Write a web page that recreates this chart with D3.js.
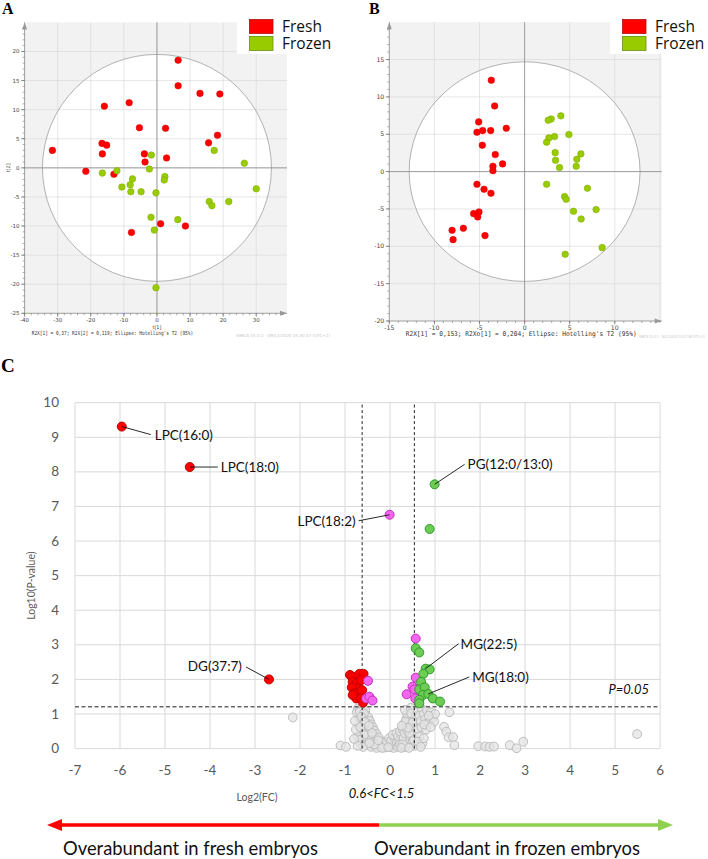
<!DOCTYPE html>
<html>
<head>
<meta charset="utf-8">
<style>
  body { margin: 0; background: #fff; }
  svg { display: block; }
  .tick-small { font-family: "DejaVu Sans", sans-serif; fill: #444; }
  .excel { font-family: Lato, "Open Sans", sans-serif; }
</style>
<script src="https://d3js.org/d3.v7.min.js"></script>
</head>
<body>
<div id="chart"></div>
<script>
// ---------- data: panel A (PCA scores t[1], t[2]) ----------
const freshA = [[6.4,18.5],[6.4,14.1],[13.0,12.8],[19.0,12.7],[-15.9,10.6],[-8.4,11.2],[-5.3,6.9],[2.6,6.8],
  [18.3,5.6],[15.6,4.3],[-16.6,4.2],[-15.2,3.9],[-31.6,3.0],[-16.5,2.4],[-3.8,2.4],[2.9,1.7],[-3.6,1.0],
  [-21.5,-0.6],[-13.0,-1.1],[1.1,-9.6],[8.6,-10.0],[-7.7,-11.1]];
const frozenA = [[-1.7,2.2],[17.3,3.0],[26.4,0.8],[-16.5,-0.9],[-12.1,-0.5],[-2.3,-0.2],[2.4,-1.5],[2.2,-2.1],
  [-7.4,-1.9],[-8.1,-2.9],[-10.6,-3.3],[-7.9,-4.1],[-4.8,-4.1],[-0.3,-4.3],[30.0,-3.6],[15.8,-5.8],[16.6,-6.5],
  [21.7,-5.8],[-1.8,-8.5],[6.3,-8.9],[-0.8,-10.7],[-0.3,-20.6]];
const ellipseA = [34.6, 19.5];
const footerA = "R2X[1] = 0,37; R2X[2] = 0,119; Ellipse: Hotelling's T2 (95%)";
const stampA = "SIMCA 15.0.2 - 09/12/2020 15:30:57 (UTC+1)";

// ---------- data: panel B (OPLS-DA scores) ----------
const freshB = [[-3.69,12.23],[-3.32,8.79],[-5.09,6.65],[-5.28,5.27],[-4.65,5.49],[-3.76,5.49],[-2.03,5.80],
  [-4.69,3.53],[-3.25,2.28],[-3.51,0.71],[-3.51,0.13],[-2.44,1.03],[-5.28,-1.70],[-4.50,-2.37],[-3.73,-2.90],
  [-5.65,-5.63],[-5.06,-5.40],[-5.20,-6.07],[-6.79,-7.59],[-8.04,-7.86],[-7.93,-9.11],[-4.39,-8.57]];
const frozenB = [[4.02,7.46],[2.95,7.05],[2.62,6.88],[4.91,4.96],[3.32,4.69],[2.69,4.51],[2.44,3.93],[3.39,2.54],
  [6.24,2.37],[5.79,1.65],[3.43,1.52],[3.87,0.54],[5.72,0.71],[2.44,-1.70],[6.97,-2.23],[4.43,-3.35],[4.61,-3.71],
  [5.42,-5.31],[7.93,-5.09],[6.27,-6.34],[8.60,-10.18],[4.50,-11.07]];
const ellipseB = [12.8, 14.7];
const footerB = "R2X[1] = 0,153; R2Xo[1] = 0,204; Ellipse: Hotelling's T2 (95%)";
const stampB = "SIMCA 15.0.2 - 16/12/2020 14:27:08 (UTC+1)";

const legendLabels = ["Fresh", "Frozen"];

// ---------- data: panel C (volcano, x = log2(FC), y = log10(P)) ----------
const volcanoRed = [[-5.96,9.31],[-4.45,8.14],[-2.69,2.0],
  [-0.89,2.13],[-0.84,2.08],[-0.68,2.16],[-0.59,2.16],[-0.83,1.93],[-0.74,1.89],[-0.64,1.98],[-0.72,1.74],
  [-0.85,1.77],[-0.79,1.60],[-0.68,1.60],[-0.62,1.69],[-0.75,1.45],[-0.64,1.45],[-0.60,1.33],[-0.83,1.55]];
const volcanoPink = [[-0.01,6.76],[0.57,3.18],[0.57,2.05],[-0.49,1.96],[-0.53,1.45],[-0.46,1.50],[-0.39,1.39],
  [0.50,1.79],[0.37,1.57],[0.54,1.71],[0.56,1.45]];
const volcanoGreen = [[0.99,7.64],[0.88,6.35],[0.57,2.90],[0.65,2.78],[0.79,2.31],[0.88,2.29],[0.74,2.16],
  [0.69,1.93],[0.65,1.71],[0.77,1.77],[0.73,1.55],[0.85,1.58],[0.95,1.45],[1.11,1.36],[0.65,1.41],[0.65,1.31]];
const volcanoGrey = [[-2.16,0.9],[-1.10,0.09],[-0.98,0.05],
  [-0.72,1.15],[-0.66,1.12],[-0.60,1.18],[-0.55,1.10],[-0.70,1.00],[-0.63,0.98],[-0.52,0.95],[-0.68,0.88],
  [-0.58,0.85],[-0.48,0.90],[-0.45,0.80],[-0.62,0.75],[-0.54,0.72],[-0.70,0.68],[-0.42,0.70],[-0.50,0.60],
  [-0.60,0.58],[-0.38,0.62],[-0.65,0.45],[-0.55,0.48],[-0.45,0.50],[-0.35,0.52],[-0.30,0.42],[-0.50,0.38],
  [-0.40,0.36],[-0.60,0.30],[-0.72,0.35],[-0.32,0.28],[-0.25,0.32],[-0.45,0.25],[-0.55,0.20],[-0.66,0.15],
  [-0.38,0.18],[-0.28,0.15],[-0.20,0.20],[-0.50,0.10],[-0.42,0.05],[-0.32,0.08],[-0.22,0.06],[-0.15,0.10],
  [-0.60,0.05],[-0.30,0.02],[-0.12,0.03],[-0.05,0.12],[-0.08,0.20],[-0.76,0.55],[-0.78,0.80],
  [-0.74,1.05],[-0.67,1.07],[-0.58,1.02],[-0.64,0.92],[-0.56,0.78],[-0.66,0.62],[-0.47,0.66],[-0.57,0.40],
  [-0.68,0.25],[-0.40,0.45],[-0.35,0.12],[-0.18,0.02],[-0.26,0.24],[-0.46,0.16],[-0.72,0.08],[-0.80,0.28],
  [0.00,0.05],[0.05,0.15],[-0.02,0.30],[0.08,0.02],[0.12,0.10],[0.02,0.22],[0.10,0.30],[0.15,0.18],
  [0.18,0.05],[0.20,0.25],[0.06,0.40],[0.14,0.45],[0.18,0.36],[0.22,0.12],[-0.04,0.04],[0.30,0.05],
  [0.25,0.38],[0.22,0.50],[0.30,0.30],[0.28,0.55],[0.32,0.45],[0.35,0.62],[0.30,0.70],[0.38,0.52],
  [0.40,0.75],[0.36,0.85],[0.42,0.90],[0.45,0.68],[0.48,0.95],[0.44,1.05],[0.50,1.10],[0.52,0.85],
  [0.38,1.00],[0.55,1.15],[0.48,0.58],[0.52,0.40],[0.45,0.30],[0.40,0.15],[0.35,0.05],[0.28,0.12],
  [0.50,0.20],[0.55,0.08],[0.25,0.02],[0.42,0.02],[0.55,0.60],[0.58,0.95],[0.33,1.12],[0.46,1.18],
  [0.34,0.78],[0.43,0.45],[0.50,0.75],[0.40,0.60],[0.26,0.66],[0.47,1.02],[0.53,0.25],
  [0.62,1.10],[0.70,1.15],[0.66,0.95],[0.75,1.00],[0.82,1.10],[0.90,1.05],[0.68,0.80],[0.78,0.85],
  [0.85,0.75],[0.95,0.90],[0.62,0.55],[0.70,0.62],[0.80,0.55],[0.98,0.78],[0.65,0.35],[0.72,0.15],
  [0.62,0.20],[0.75,0.30],[0.68,0.05],[1.00,1.00],[0.86,0.95],[0.76,0.70],[0.90,0.62],
  [1.20,0.63],[1.25,0.49],[1.30,0.33],[1.40,0.33],[1.43,0.10],[1.32,1.05],[1.96,0.07],[2.11,0.06],
  [2.21,0.05],[2.31,0.06],[2.66,0.10],[2.81,0.01],[2.96,0.20],[5.49,0.42]];
const volcanoXTicks = [-7,-6,-5,-4,-3,-2,-1,0,1,2,3,4,5,6];
const volcanoYTicks = [0,1,2,3,4,5,6,7,8,9,10];
const fcCutoffs = [-0.62, 0.54];
const pCutoff = 1.21;
const annotations = [
  { name: "LPC(16:0)", at: [-5.96,9.31] },
  { name: "LPC(18:0)", at: [-4.45,8.14] },
  { name: "PG(12:0/13:0)", at: [0.99,7.64] },
  { name: "LPC(18:2)", at: [-0.01,6.76] },
  { name: "MG(22:5)", at: [0.79,2.31] },
  { name: "MG(18:0)", at: [0.85,1.58] },
  { name: "DG(37:7)", at: [-2.69,2.0] }
];
// leader line end / text offsets in px (layout only)
const annoLayout = {
  "LPC(16:0)": { lx: 29, ly: 8, tx: 33, ty: 9, anchor: "start" },
  "LPC(18:0)": { lx: 28, ly: 0, tx: 31, ty: 0, anchor: "start" },
  "PG(12:0/13:0)": { lx: 30, ly: -20, tx: 33, ty: -20, anchor: "start" },
  "LPC(18:2)": { lx: -31, ly: 6, tx: -34, ty: 7, anchor: "end" },
  "MG(22:5)": { lx: 33, ly: -25, tx: 35, ty: -24, anchor: "start" },
  "MG(18:0)": { lx: 41, ly: -17, tx: 44, ty: -17, anchor: "start" },
  "DG(37:7)": { lx: -23, ly: -12.5, tx: -27, ty: -13.5, anchor: "end" }
};

const W = 708, H = 859;
const svg = d3.select("#chart").append("svg").attr("width", W).attr("height", H);

// ---------- SIMCA-style score plot ----------
function scorePlot(cfg) {
  const g = svg.append("g");
  const x = d3.scaleLinear().domain(cfg.xDomain).range(cfg.xRange);
  const y = d3.scaleLinear().domain(cfg.yDomain).range(cfg.yRange);
  const [x0, x1] = cfg.xRange, [y0, y1] = cfg.yRange;

  g.append("rect").attr("x", x0).attr("y", y1).attr("width", x1 - x0).attr("height", y0 - y1)
    .attr("fill", "#f2f2f2");
  g.append("ellipse").attr("cx", x(0)).attr("cy", y(0))
    .attr("rx", x(cfg.ellipse[0]) - x(0)).attr("ry", y(0) - y(cfg.ellipse[1]))
    .attr("fill", "#fff");

  // grid
  const gx = d3.range(cfg.xDomain[0], cfg.xDomain[1], cfg.xStep).filter(v => v > cfg.xDomain[0]);
  const gy = d3.range(cfg.yDomain[0], cfg.yDomain[1], cfg.yStep).filter(v => v > cfg.yDomain[0]);
  g.selectAll(".gx").data(gx).join("line")
    .attr("x1", d => x(d)).attr("x2", d => x(d)).attr("y1", y0).attr("y2", y1)
    .attr("stroke", "#d6d6d6").attr("stroke-opacity", 0.6);
  g.selectAll(".gy").data(gy).join("line")
    .attr("y1", d => y(d)).attr("y2", d => y(d)).attr("x1", x0).attr("x2", x1)
    .attr("stroke", "#d6d6d6").attr("stroke-opacity", 0.6);

  g.append("ellipse").attr("cx", x(0)).attr("cy", y(0))
    .attr("rx", x(cfg.ellipse[0]) - x(0)).attr("ry", y(0) - y(cfg.ellipse[1]))
    .attr("fill", "none").attr("stroke", "#a0a0a0").attr("stroke-width", 0.8);

  // zero lines
  g.append("line").attr("x1", x(0)).attr("x2", x(0)).attr("y1", y0).attr("y2", y1)
    .attr("stroke", "#8c8c8c").attr("stroke-width", 0.8);
  g.append("line").attr("y1", y(0)).attr("y2", y(0)).attr("x1", x0).attr("x2", x1)
    .attr("stroke", "#8c8c8c").attr("stroke-width", 0.8);

  // axes with arrows
  g.append("line").attr("x1", x0).attr("x2", x0).attr("y1", y0).attr("y2", y1)
    .attr("stroke", "#888").attr("stroke-width", 0.8);
  g.append("line").attr("x1", x0).attr("x2", x1).attr("y1", y0).attr("y2", y0)
    .attr("stroke", "#888").attr("stroke-width", 0.8);
  g.append("path").attr("d", `M${x0 - 2.5},${y1 + 7}L${x0},${y1}L${x0 + 2.5},${y1 + 7}Z`).attr("fill", "#999");
  g.append("path").attr("d", `M${x1 - 7},${y0 - 2.5}L${x1},${y0}L${x1 - 7},${y0 + 2.5}Z`).attr("fill", "#999");

  // ticks
  const xMinor = d3.range(cfg.xDomain[0], cfg.xDomain[1], cfg.xMinor);
  const yMinor = d3.range(cfg.yDomain[0], cfg.yDomain[1], cfg.yMinor);
  g.selectAll(".xm").data(xMinor).join("line")
    .attr("x1", d => x(d)).attr("x2", d => x(d)).attr("y1", y0).attr("y2", y0 + 2)
    .attr("stroke", "#777").attr("stroke-width", 0.6);
  g.selectAll(".ym").data(yMinor).join("line")
    .attr("y1", d => y(d)).attr("y2", d => y(d)).attr("x1", x0).attr("x2", x0 - 2)
    .attr("stroke", "#777").attr("stroke-width", 0.6);
  g.selectAll(".xt").data(cfg.xTicks).join("line")
    .attr("x1", d => x(d)).attr("x2", d => x(d)).attr("y1", y0).attr("y2", y0 + 3.5)
    .attr("stroke", "#666").attr("stroke-width", 0.7);
  g.selectAll(".yt").data(cfg.yTicks).join("line")
    .attr("y1", d => y(d)).attr("y2", d => y(d)).attr("x1", x0).attr("x2", x0 - 3.5)
    .attr("stroke", "#666").attr("stroke-width", 0.7);
  g.selectAll(".xl").data(cfg.xTicks).join("text").attr("class", "tick-small")
    .attr("x", d => x(d)).attr("y", y0 + cfg.tickFont + 3).attr("text-anchor", "middle")
    .attr("font-size", cfg.tickFont).text(d => d);
  g.selectAll(".yl").data(cfg.yTicks).join("text").attr("class", "tick-small")
    .attr("x", x0 - 5).attr("y", d => y(d) + cfg.tickFont * 0.35).attr("text-anchor", "end")
    .attr("font-size", cfg.tickFont).text(d => d);

  if (cfg.axisTitles) {
    g.append("text").attr("class", "tick-small").attr("font-size", 5)
      .attr("x", x(0)).attr("y", y0 + 15.5).attr("text-anchor", "middle").text("t[1]");
    g.append("text").attr("class", "tick-small").attr("font-size", 5)
      .attr("transform", `translate(${x0 - 15},${y(0)}) rotate(-90)`).attr("text-anchor", "middle").text("t[2]");
  }

  // points
  const groups = [[cfg.fresh, "#ff0000", "#d40000"], [cfg.frozen, "#99cc00", "#7ea800"]];
  groups.forEach(([pts, fill, stroke]) => {
    g.append("g").selectAll("circle").data(pts).join("circle")
      .attr("cx", d => x(d[0])).attr("cy", d => y(d[1])).attr("r", 3.3)
      .attr("fill", fill).attr("stroke", stroke).attr("stroke-width", 0.5);
  });

  // legend
  const lg = g.append("g").attr("transform", `translate(${cfg.legend[0]},${cfg.legend[1]})`);
  lg.append("rect").attr("x", 0).attr("y", 0).attr("width", 110).attr("height", 37).attr("fill", "#fff");
  legendLabels.forEach((lab, i) => {
    lg.append("rect").attr("x", 12.5).attr("y", 2.5 + i * 17).attr("width", 23.5).attr("height", 14)
      .attr("fill", i === 0 ? "#ff0000" : "#99cc00").attr("stroke", i === 0 ? "#b01010" : "#6d8f10")
      .attr("stroke-width", 0.8);
    lg.append("text").attr("x", 45).attr("y", 14.5 + i * 17).attr("font-family", "Open Sans, sans-serif")
      .attr("font-size", 15.5).attr("fill", "#111").text(lab);
  });

  // footer
  g.append("text").attr("x", cfg.footer[0]).attr("y", cfg.footer[1])
    .attr("font-family", "DejaVu Sans Mono, monospace").attr("font-size", cfg.footer[3])
    .attr("fill", "#333").attr("textLength", cfg.footer[2]).attr("lengthAdjust", "spacingAndGlyphs")
    .text(cfg.footerText);
  g.append("text").attr("x", cfg.stamp[0]).attr("y", cfg.stamp[1])
    .attr("font-family", "DejaVu Sans, sans-serif").attr("font-size", 4.2)
    .attr("fill", "#c4c4c4").attr("textLength", cfg.stamp[2]).attr("lengthAdjust", "spacingAndGlyphs")
    .text(cfg.stampText);

  // panel letter
  svg.append("text").attr("x", cfg.letter[0]).attr("y", cfg.letter[1])
    .attr("font-family", "Liberation Serif, serif").attr("font-weight", "bold")
    .attr("font-size", 16).text(cfg.letterText);
}

scorePlot({
  xDomain: [-40, 39.3], xRange: [24.6, 287], yDomain: [-25, 25], yRange: [313.3, 22.4],
  xStep: 10, yStep: 5, xMinor: 2, yMinor: 1,
  xTicks: [-40,-30,-20,-10,0,10,20,30], yTicks: [-25,-20,-15,-10,-5,0,5,10,15,20],
  tickFont: 5.5, ellipse: ellipseA, fresh: freshA, frozen: frozenA,
  legend: [237, 17], footer: [31.7, 335, 161.5, 5.6], footerText: footerA,
  stamp: [236, 337, 94], stampText: stampA, axisTitles: true,
  letter: [2, 14], letterText: "A"
});

scorePlot({
  xDomain: [-15, 15.2], xRange: [389.3, 661.7], yDomain: [-20, 20], yRange: [321, 22.2],
  xStep: 5, yStep: 5, xMinor: 1, yMinor: 1,
  xTicks: [-15,-10,-5,0,5,10], yTicks: [-20,-15,-10,-5,0,5,10,15],
  tickFont: 6.2, ellipse: ellipseB, fresh: freshB, frozen: frozenB,
  legend: [610, 17], footer: [405.7, 335.5, 231, 6.6], footerText: footerB,
  stamp: [639, 338, 66], stampText: stampB, axisTitles: false,
  letter: [369, 14], letterText: "B"
});

// ---------- Panel C: volcano plot ----------
const xC = d3.scaleLinear().domain([-7, 6]).range([75, 660.1]);
const yC = d3.scaleLinear().domain([0, 10]).range([748.6, 402.7]);
const gc = svg.append("g");

svg.append("text").attr("x", 1).attr("y", 372).attr("font-family", "Liberation Serif, serif")
  .attr("font-weight", "bold").attr("font-size", 19).text("C");

gc.selectAll(".vgx").data(volcanoXTicks).join("line")
  .attr("x1", d => xC(d)).attr("x2", d => xC(d)).attr("y1", yC(0)).attr("y2", yC(10))
  .attr("stroke", "#d9d9d9").attr("stroke-width", 1);
gc.selectAll(".vgy").data(volcanoYTicks).join("line")
  .attr("y1", d => yC(d)).attr("y2", d => yC(d)).attr("x1", xC(-7)).attr("x2", xC(6))
  .attr("stroke", "#d9d9d9").attr("stroke-width", 1);

gc.selectAll(".vyl").data(volcanoYTicks).join("text").attr("class", "excel")
  .attr("x", 59).attr("y", d => yC(d) + 4.6).attr("text-anchor", "end")
  .attr("font-size", 13.5).attr("fill", "#595959").text(d => d);
gc.selectAll(".vxl").data(volcanoXTicks).join("text").attr("class", "excel")
  .attr("x", d => xC(d)).attr("y", 774.5).attr("text-anchor", "middle")
  .attr("font-size", 13.5).attr("fill", "#595959").text(d => d);

gc.append("text").attr("class", "excel").attr("font-size", 10.5).attr("fill", "#595959")
  .attr("transform", `translate(34.5,${yC(5) + 10}) rotate(-90)`).attr("text-anchor", "middle")
  .text("Log10(P-value)");
gc.append("text").attr("class", "excel").attr("font-size", 10.5).attr("fill", "#595959")
  .attr("x", 257).attr("y", 800.5).attr("text-anchor", "middle").text("Log2(FC)");
gc.append("text").attr("class", "excel").attr("font-size", 13).attr("font-style", "italic")
  .attr("fill", "#111").attr("x", 381.5).attr("y", 797.5).attr("text-anchor", "middle").text("0.6<FC<1.5");
gc.append("text").attr("class", "excel").attr("font-size", 13).attr("font-style", "italic")
  .attr("fill", "#111").attr("x", 649).attr("y", 694).attr("text-anchor", "end").text("P=0.05");

// grey (non significant) points
gc.append("g").selectAll("circle").data(volcanoGrey).join("circle")
  .attr("cx", d => xC(d[0])).attr("cy", d => yC(d[1])).attr("r", 4.4)
  .attr("fill", "#e4e4e4").attr("fill-opacity", 0.75).attr("stroke", "#bdbdbd").attr("stroke-width", 1);

// thresholds
gc.selectAll(".fc").data(fcCutoffs).join("line")
  .attr("x1", d => xC(d)).attr("x2", d => xC(d)).attr("y1", yC(0)).attr("y2", yC(10))
  .attr("stroke", "#222").attr("stroke-width", 1).attr("stroke-dasharray", "3,2.5");
gc.append("line").attr("x1", xC(-7)).attr("x2", xC(6)).attr("y1", yC(pCutoff)).attr("y2", yC(pCutoff))
  .attr("stroke", "#666").attr("stroke-width", 1.5).attr("stroke-dasharray", "4,2.5");

// significant points
[[volcanoRed, "#ff0000", "#c00000"], [volcanoPink, "#f466ee", "#c22fbf"], [volcanoGreen, "#6ccc54", "#2f9a2f"]]
  .forEach(([pts, fill, stroke]) => {
    gc.append("g").selectAll("circle").data(pts).join("circle")
      .attr("cx", d => xC(d[0])).attr("cy", d => yC(d[1])).attr("r", 4.5)
      .attr("fill", fill).attr("stroke", stroke).attr("stroke-width", 1);
  });

// annotations
annotations.forEach(a => {
  const L = annoLayout[a.name];
  const px = xC(a.at[0]), py = yC(a.at[1]);
  gc.append("line").attr("x1", px).attr("y1", py).attr("x2", px + L.lx).attr("y2", py + L.ly)
    .attr("stroke", "#111").attr("stroke-width", 0.9);
  gc.append("text").attr("class", "excel").attr("font-size", 13.5).attr("fill", "#111")
    .attr("x", px + L.tx).attr("y", py + L.ty + 4.7).attr("text-anchor", L.anchor).text(a.name);
});

// direction arrows
const arrowY = 825, split = 379;
const ga = svg.append("g");
ga.append("line").attr("x1", split).attr("x2", 60).attr("y1", arrowY).attr("y2", arrowY)
  .attr("stroke", "#ff0000").attr("stroke-width", 3.5);
ga.append("path").attr("d", `M62,${arrowY - 6}L47,${arrowY}L62,${arrowY + 6}Z`).attr("fill", "#ff0000");
ga.append("line").attr("x1", split).attr("x2", 660).attr("y1", arrowY).attr("y2", arrowY)
  .attr("stroke", "#8fd14f").attr("stroke-width", 3.5);
ga.append("path").attr("d", `M658,${arrowY - 6}L673,${arrowY}L658,${arrowY + 6}Z`).attr("fill", "#8fd14f");

ga.append("text").attr("class", "excel").attr("font-size", 19).attr("fill", "#111")
  .attr("x", 63).attr("y", 855).attr("textLength", 255).attr("lengthAdjust", "spacingAndGlyphs")
  .text("Overabundant in fresh embryos");
ga.append("text").attr("class", "excel").attr("font-size", 19).attr("fill", "#111")
  .attr("x", 374).attr("y", 855).attr("textLength", 266).attr("lengthAdjust", "spacingAndGlyphs")
  .text("Overabundant in frozen embryos");
</script>
</body>
</html>
